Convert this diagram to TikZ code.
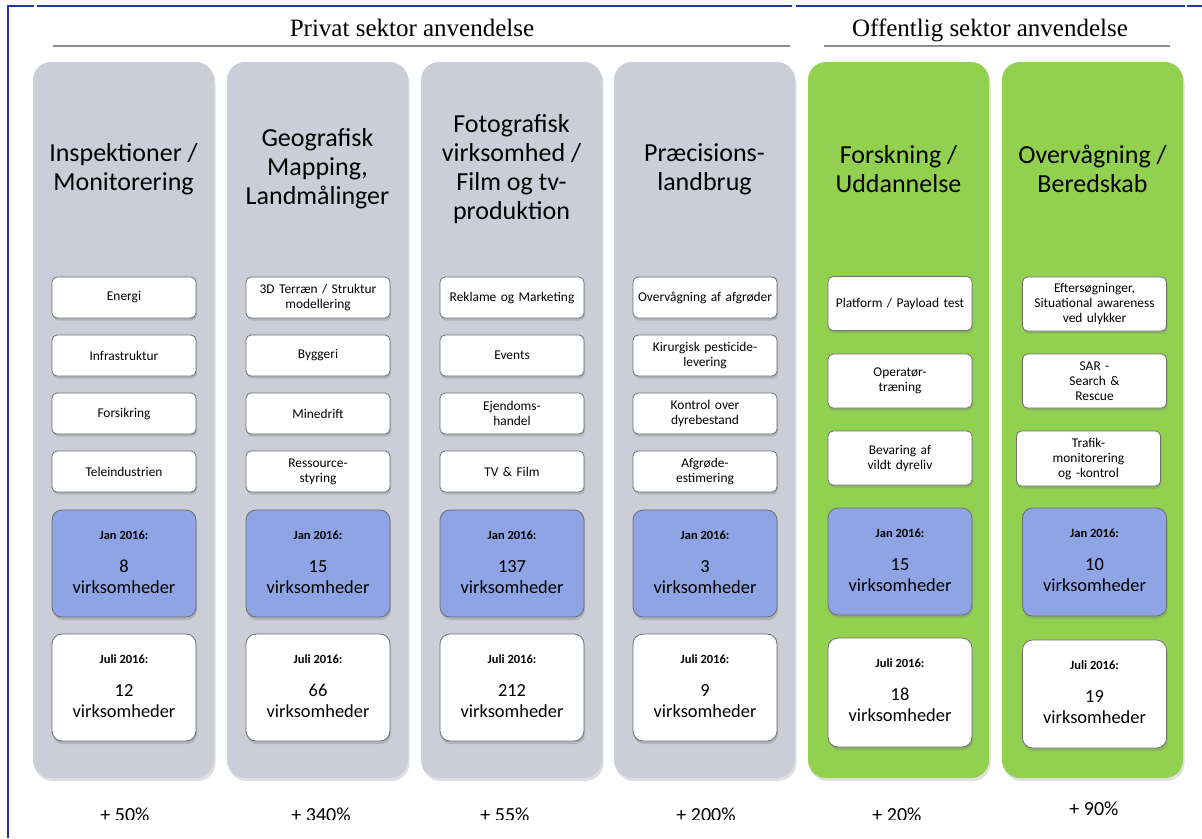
\documentclass[tikz,border=0pt]{standalone}
\usepackage{fontspec}
\setmainfont{Carlito}
\newfontfamily\hdrfont{Liberation Serif}
\usetikzlibrary{shadows}
\definecolor{colgray}{HTML}{CBCED9}
\definecolor{colgreen}{HTML}{92D050}
\definecolor{janblue}{HTML}{8EA4E4}
\definecolor{framebl}{HTML}{1F3A8F}
\definecolor{rulegray}{HTML}{8C8C8C}
\definecolor{edgegray}{HTML}{6E6E6E}
\newcommand\statbox[7]{%
  \node[cntbox=#4, minimum height=#7pt] (#1) at (#2,#3+#7/2) {};
  \node[datelbl] (#1l) at (#2,#3+25) {#5};
  \node[cnt] (#1c) at (#2,#3+67) {#6\\virksomheder};
}
\begin{document}
\begin{tikzpicture}[x=1pt,y=-1pt,
  colbox/.style={fill=#1, rounded corners=18pt, minimum width=181pt, minimum height=716pt, inner sep=0pt,
    drop shadow={shadow xshift=1.5pt, shadow yshift=-3pt, opacity=0.25}},
  title/.style={align=center, font=\fontsize{26}{29}\selectfont},
  item/.style={draw=edgegray, line width=0.8pt, fill=white, rounded corners=5pt, minimum width=144pt,
    minimum height=#1, text width=140pt, inner sep=2pt, align=center, font=\fontsize{13.4}{15}\selectfont,
    drop shadow={shadow xshift=1pt, shadow yshift=-2.5pt, opacity=0.35}},
  item/.default=41pt,
  cntbox/.style={draw=edgegray, line width=0.8pt, fill=#1, rounded corners=10pt, minimum width=144pt,
    inner sep=0pt, drop shadow={shadow xshift=1pt, shadow yshift=-3pt, opacity=0.35}},
  datelbl/.style={font=\bfseries\fontsize{12.5}{14}\selectfont},
  cnt/.style={align=center, font=\fontsize{18.4}{20.5}\selectfont},
  hdr/.style={font=\hdrfont\fontsize{25}{30}\selectfont, anchor=base},
  pct/.style={font=\fontsize{20}{23}\selectfont},
  frameline/.style={draw=framebl, line width=2pt},
  rule/.style={draw=rulegray, line width=2pt}
]
\useasboundingbox (0,0) rectangle (1202,838);

% frame
\coordinate (f0) at (8,838);
\coordinate (f1) at (8,6);
\coordinate (f2) at (34,6);
\coordinate (f3) at (36.5,6);
\coordinate (f4) at (792,6);
\coordinate (f5) at (796,6);
\coordinate (f6) at (1184.5,6);
\coordinate (f7) at (1187,6);
\coordinate (f8) at (1202,6);
\draw[frameline] (f0) -- (f1) -- (f2);
\draw[frameline] (f3) -- (f4);
\draw[frameline] (f5) -- (f6);
\draw[frameline] (f7) -- (f8);

% headers
\node[hdr] (hp) at (412,36) {Privat sektor anvendelse};
\node[hdr] (ho) at (990,36) {Offentlig sektor anvendelse};
\coordinate (rp1) at (53,46);
\coordinate (rp2) at (790,46);
\coordinate (ro1) at (824,46);
\coordinate (ro2) at (1170,46);
\draw[rule] (rp1) -- (rp2);
\draw[rule] (ro1) -- (ro2);

% columns
\node[colbox=colgray]  (c1) at (123.5,420) {};
\node[colbox=colgray]  (c2) at (317.5,420) {};
\node[colbox=colgray]  (c3) at (511.5,420) {};
\node[colbox=colgray]  (c4) at (704.5,420) {};
\node[colbox=colgreen] (c5) at (898.5,420) {};
\node[colbox=colgreen] (c6) at (1092.5,420) {};

% titles
\node[title] (t1) at (123.5,169) {Inspektioner /\\Monitorering};
\node[title] (t2) at (317.5,169) {Geografisk\\Mapping,\\Landmålinger};
\node[title] (t3) at (511.5,169) {Fotografisk\\virksomhed /\\Film og tv-\\produktion};
\node[title] (t4) at (704.5,169) {Præcisions-\\landbrug};
\node[title] (t5) at (898.5,169) {Forskning /\\Uddannelse};
\node[title] (t6) at (1092.5,169) {Overvågning /\\Beredskab};

% items column 1
\node[item] (a1) at (124,297.5) {Energi};
\node[item] (a2) at (124,355.5) {Infrastruktur};
\node[item] (a3) at (124,413.5) {Forsikring};
\node[item] (a4) at (124,471.5) {Teleindustrien};
% column 2
\node[item] (b1) at (318,297.5) {3D Terræn / Struktur\\modellering};
\node[item] (b2) at (318,355.5) {Byggeri};
\node[item] (b3) at (318,413.5) {Minedrift};
\node[item] (b4) at (318,471.5) {Ressource-\\styring};
% column 3
\node[item] (d1) at (512,297.5) {Reklame og Marketing};
\node[item] (d2) at (512,355.5) {Events};
\node[item] (d3) at (512,413.5) {Ejendoms-\\handel};
\node[item] (d4) at (512,471.5) {TV \& Film};
% column 4
\node[item] (e1) at (705,297.5) {Overvågning af afgrøder};
\node[item] (e2) at (705,355.5) {Kirurgisk pesticide-\\levering};
\node[item] (e3) at (705,413.5) {Kontrol over\\dyrebestand};
\node[item] (e4) at (705,471.5) {Afgrøde-\\estimering};
% column 5
\node[item=54pt] (g1) at (900,303.5) {Platform / Payload test};
\node[item=54pt] (g2) at (900,381) {Operatør-\\træning};
\node[item=54pt] (g3) at (900,458) {Bevaring af\\vildt dyreliv};
% column 6
\node[item=54pt] (h1) at (1094.5,304) {Eftersøgninger,\\Situational awareness\\ved ulykker};
\node[item=54pt] (h2) at (1094.5,381) {SAR -\\Search \&\\Rescue};
\node[item=55pt] (h3) at (1088.5,458.5) {Trafik-\\monitorering\\og -kontrol};

% stat boxes
\statbox{j1}{124}{510}{janblue}{Jan 2016:}{8}{107}
\statbox{j2}{318}{510}{janblue}{Jan 2016:}{15}{107}
\statbox{j3}{512}{510}{janblue}{Jan 2016:}{137}{107}
\statbox{j4}{705}{510}{janblue}{Jan 2016:}{3}{107}
\statbox{j5}{900}{508}{janblue}{Jan 2016:}{15}{107}
\statbox{j6}{1094.5}{508}{janblue}{Jan 2016:}{10}{108}
\statbox{u1}{124}{634}{white}{Juli 2016:}{12}{107}
\statbox{u2}{318}{634}{white}{Juli 2016:}{66}{107}
\statbox{u3}{512}{634}{white}{Juli 2016:}{212}{107}
\statbox{u4}{705}{634}{white}{Juli 2016:}{9}{107}
\statbox{u5}{900}{638}{white}{Juli 2016:}{18}{109}
\statbox{u6}{1094.5}{640}{white}{Juli 2016:}{19}{108}

% percentages
\begin{scope}
\clip (0,790) rectangle (1202,819);
\node[pct] (p1) at (125,815) {+ 50\%};
\node[pct] (p2) at (321,815) {+ 340\%};
\node[pct] (p3) at (505,815) {+ 55\%};
\node[pct] (p4) at (706,815) {+ 200\%};
\node[pct] (p5) at (897,815) {+ 20\%};
\end{scope}
\node[pct] (p6) at (1094,808.5) {+ 90\%};
\end{tikzpicture}
\end{document}
